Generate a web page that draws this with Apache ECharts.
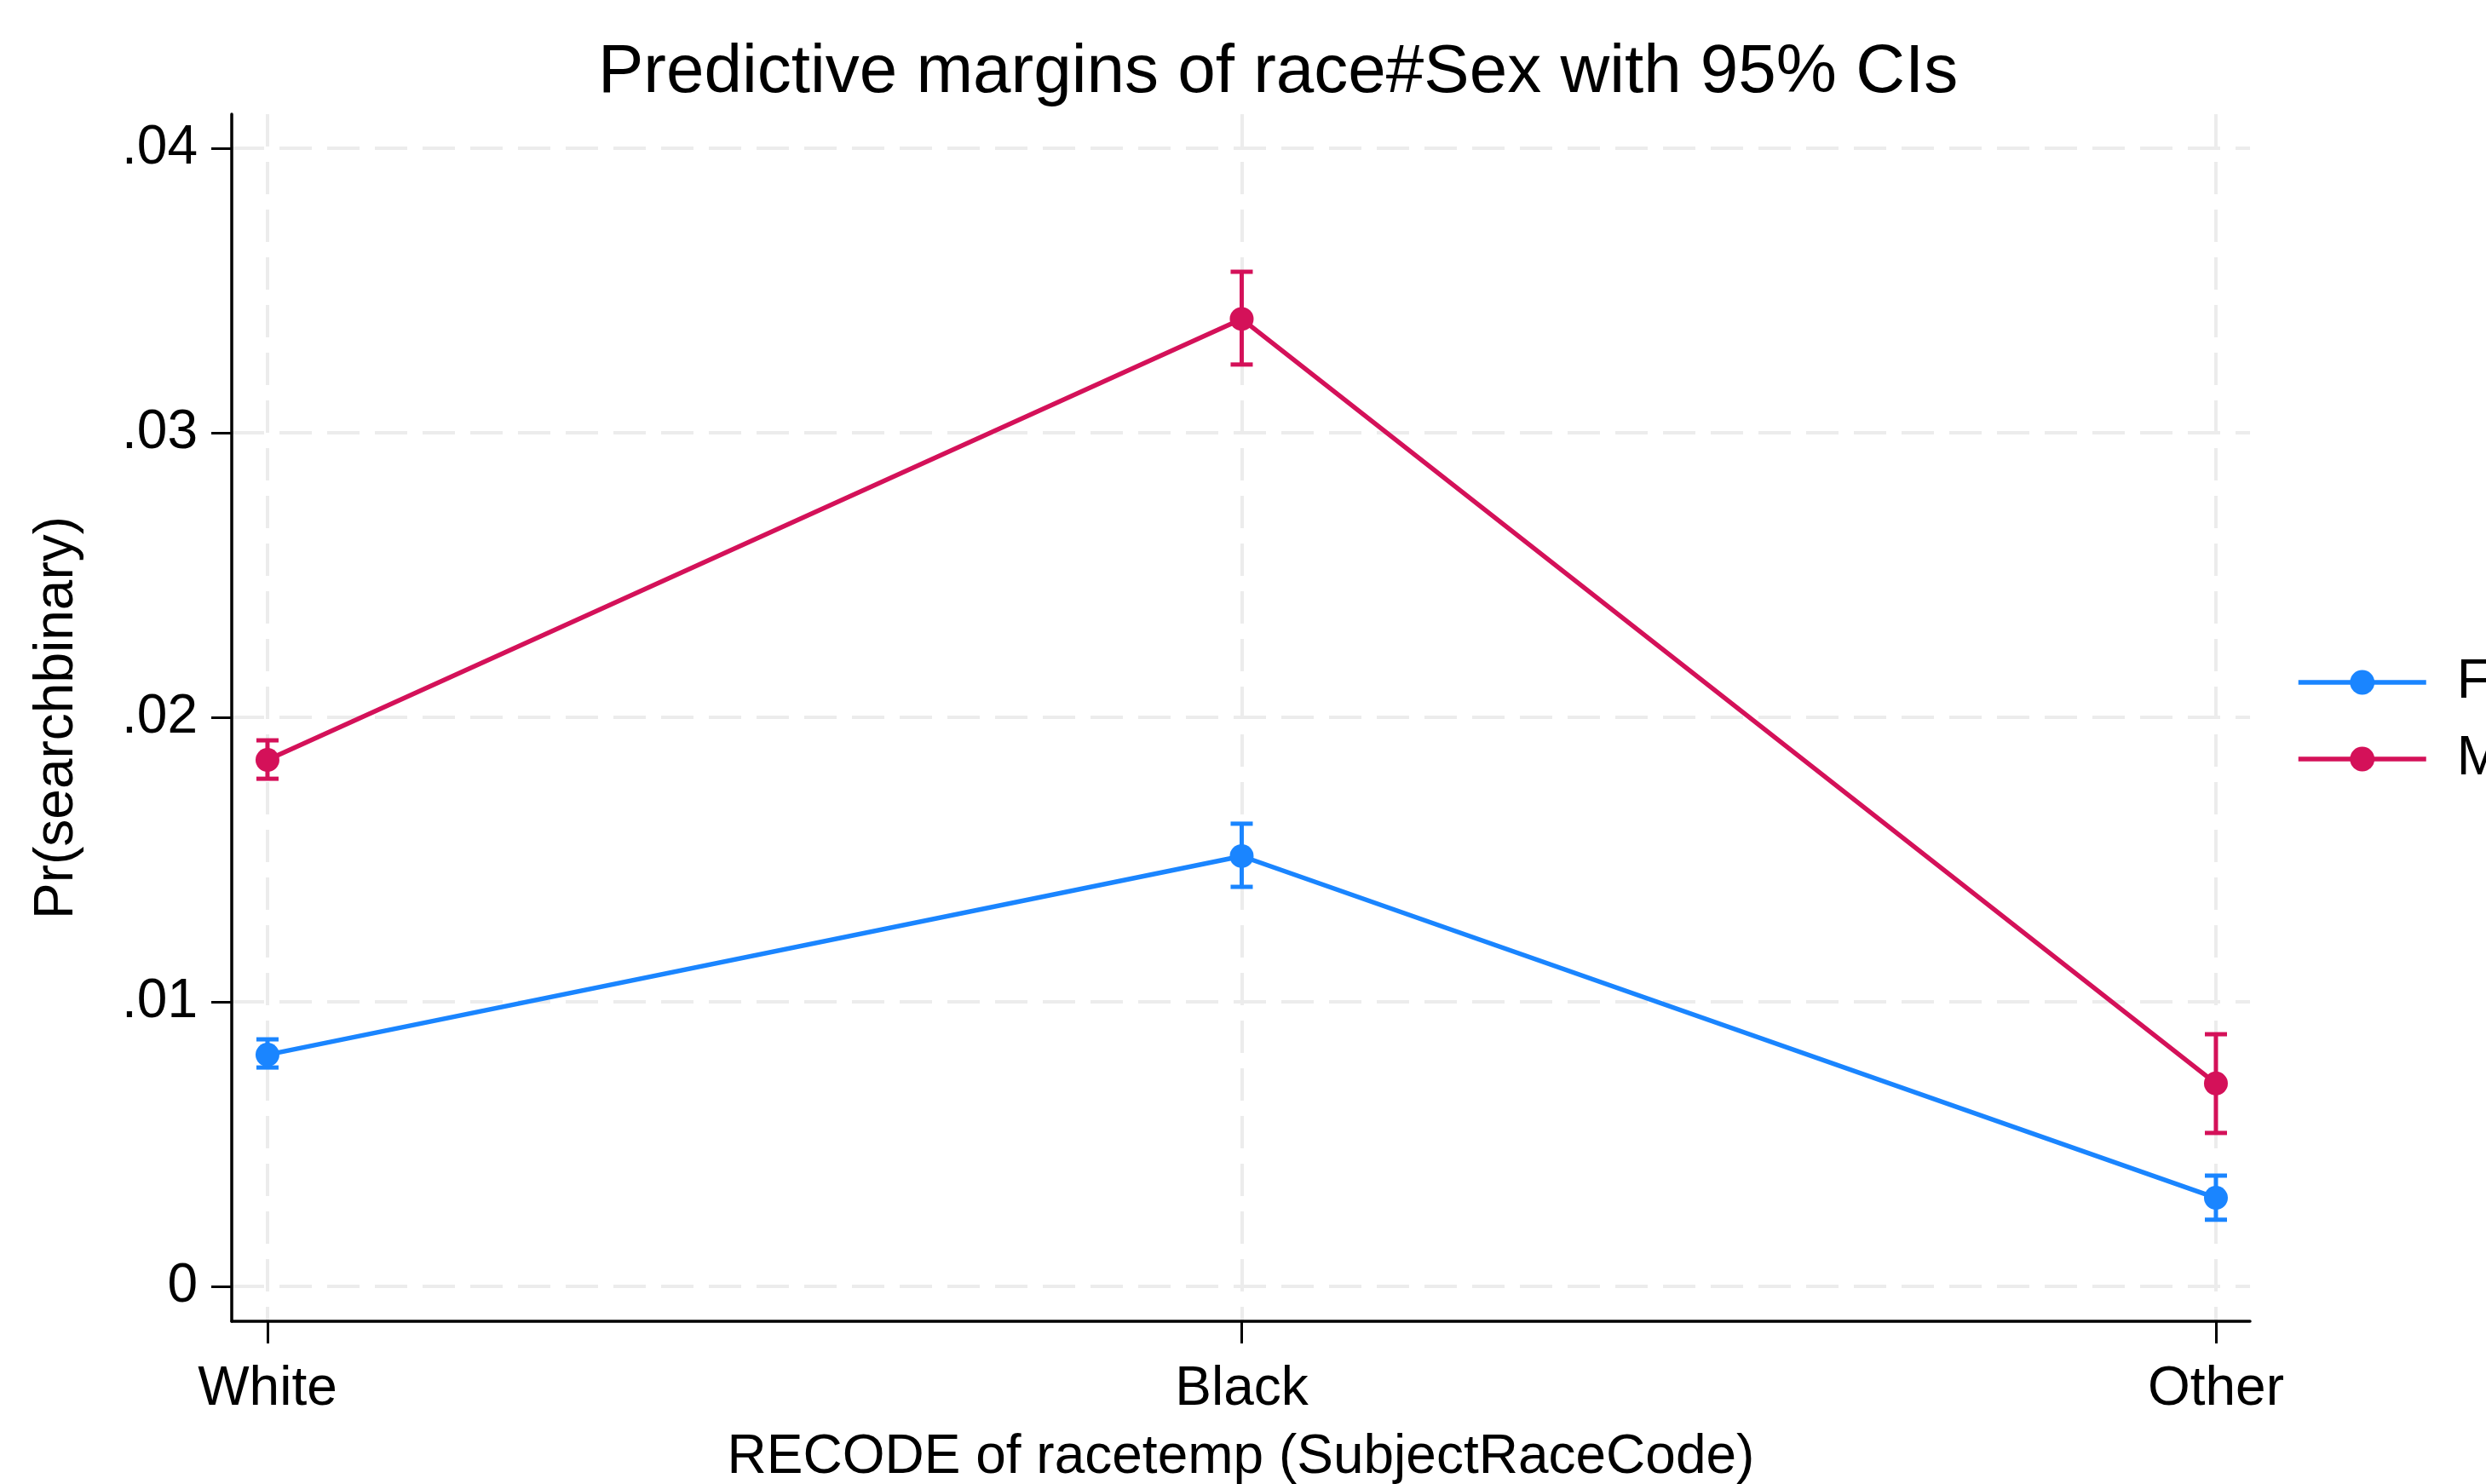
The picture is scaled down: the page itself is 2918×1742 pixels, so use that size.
<!DOCTYPE html>
<html>
<head>
<meta charset="utf-8">
<script src="https://cdn.jsdelivr.net/npm/echarts@6/dist/echarts.min.js"></script>
<style>
html,body{margin:0;padding:0;background:#fff;}
#chart{width:2918px;height:1742px;}
</style>
</head>
<body>
<div id="chart"></div>
<script>
var categories = ['White', 'Black', 'Other'];
var categoryIndex = [0, 1, 2];
var femaleMargin = [0.00814, 0.01512, 0.00311];
var femaleLow = [0.00769, 0.01404, 0.00234];
var femaleHigh = [0.00868, 0.01626, 0.00389];
var maleMargin = [0.01850, 0.03400, 0.00713];
var maleLow = [0.01784, 0.03240, 0.00539];
var maleHigh = [0.01919, 0.03566, 0.00886];
var yTickValues = [0, 0.01, 0.02, 0.03, 0.04];
var yTickLabels = ['0', '.01', '.02', '.03', '.04'];
var seriesNames = ['F', 'M'];
var colors = ['#1A85FF', '#D41159'];

var FONT = '"Liberation Sans", Arial, sans-serif';

function points(vals) {
  return categoryIndex.map(function (x, i) { return [x, vals[i]]; });
}
function ciData(lo, hi) {
  return categoryIndex.map(function (x, i) { return [x, lo[i], hi[i]]; });
}
function errorRender(color) {
  return function (params, api) {
    var x = api.value(0);
    var lo = api.coord([x, api.value(1)]);
    var hi = api.coord([x, api.value(2)]);
    var half = 13;
    var style = { stroke: color, lineWidth: 5, lineCap: 'butt' };
    return {
      type: 'group',
      children: [
        { type: 'line', shape: { x1: lo[0], y1: lo[1], x2: hi[0], y2: hi[1] }, style: style },
        { type: 'line', shape: { x1: lo[0] - half, y1: lo[1], x2: lo[0] + half, y2: lo[1] }, style: style },
        { type: 'line', shape: { x1: hi[0] - half, y1: hi[1], x2: hi[0] + half, y2: hi[1] }, style: style }
      ]
    };
  };
}

var gridLine = { show: true, lineStyle: { color: '#ececec', width: 4, type: [38, 18] } };

var chart = echarts.init(document.getElementById('chart'), null, { renderer: 'canvas' });
chart.setOption({
  backgroundColor: '#ffffff',
  animation: false,
  textStyle: { fontFamily: FONT, color: '#000' },
  title: {
    text: 'Predictive margins of race#Sex with 95% CIs',
    left: 697, top: 41,
    textStyle: { fontFamily: FONT, fontSize: 80, fontWeight: 'normal', color: '#000' }
  },
  legend: {
    orient: 'vertical',
    left: 2690, top: 764,
    itemWidth: 150, itemHeight: 36, itemGap: 26,
    data: seriesNames,
    lineStyle: { width: 5.5 },
    textStyle: { fontFamily: FONT, fontSize: 64, color: '#000', padding: [0, 0, 0, 31] }
  },
  grid: { left: 272, right: 277, top: 134, bottom: 191, containLabel: false, outerBoundsMode: 'none' },
  xAxis: {
    type: 'value',
    min: -0.0367, max: 2.035,
    name: 'RECODE of racetemp (SubjectRaceCode)',
    nameLocation: 'middle', nameGap: 128,
    nameTextStyle: { fontFamily: FONT, fontSize: 64, color: '#000' },
    axisLine: { show: true, onZero: false, lineStyle: { color: '#000', width: 3.5 } },
    axisTick: { show: true, length: 26, lineStyle: { color: '#000', width: 3 }, customValues: categoryIndex },
    axisLabel: {
      margin: 48, fontFamily: FONT, fontSize: 64, color: '#000',
      customValues: categoryIndex,
      formatter: function (v) { return categories[Math.round(v)]; }
    },
    splitLine: gridLine
  },
  yAxis: {
    type: 'value',
    min: -0.00123, max: 0.0412,
    name: 'Pr(searchbinary)',
    nameLocation: 'middle', nameGap: 173, nameRotate: 90,
    nameTextStyle: { fontFamily: FONT, fontSize: 64, color: '#000' },
    axisLine: { show: true, onZero: false, lineStyle: { color: '#000', width: 3.5 } },
    axisTick: { show: true, length: 24, lineStyle: { color: '#000', width: 3 }, customValues: yTickValues },
    axisLabel: {
      margin: 40, fontFamily: FONT, fontSize: 64, color: '#000',
      customValues: yTickValues,
      formatter: function (v) {
        var best = 0;
        for (var i = 0; i < yTickValues.length; i++) {
          if (Math.abs(yTickValues[i] - v) < Math.abs(yTickValues[best] - v)) best = i;
        }
        return yTickLabels[best];
      }
    },
    splitLine: gridLine
  },
  series: [
    {
      type: 'custom', name: seriesNames[0] + ' CI', renderItem: errorRender(colors[0]),
      data: ciData(femaleLow, femaleHigh), z: 3, silent: true
    },
    {
      type: 'custom', name: seriesNames[1] + ' CI', renderItem: errorRender(colors[1]),
      data: ciData(maleLow, maleHigh), z: 3, silent: true
    },
    {
      type: 'line', name: seriesNames[0], data: points(femaleMargin),
      symbol: 'circle', symbolSize: 28, z: 5,
      lineStyle: { color: colors[0], width: 5.5 }, itemStyle: { color: colors[0] }
    },
    {
      type: 'line', name: seriesNames[1], data: points(maleMargin),
      symbol: 'circle', symbolSize: 28, z: 5,
      lineStyle: { color: colors[1], width: 5.5 }, itemStyle: { color: colors[1] }
    }
  ]
});
</script>
</body>
</html>
